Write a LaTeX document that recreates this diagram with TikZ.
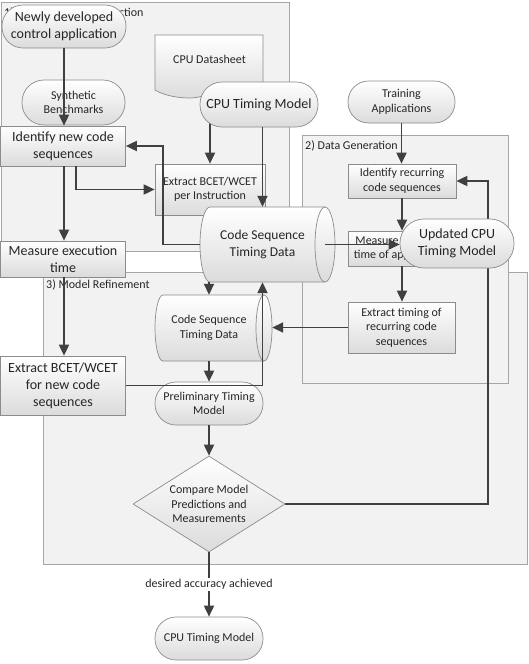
\documentclass[tikz,border=0pt]{standalone}
\usepackage{fontspec}
\setmainfont{Carlito}
\usetikzlibrary{arrows.meta,shapes.geometric,calc}
\pgfdeclarelayer{back}
\pgfdeclarelayer{mid}
\pgfdeclarelayer{front}
\pgfsetlayers{back,mid,main,front}
\begin{document}
\begin{tikzpicture}[x=1pt,y=-1pt,
  every node/.style={text=black!85, inner sep=0pt},
  bigfont/.style={font=\fontsize{14}{17}\selectfont, align=center},
  smallfont/.style={font=\fontsize{12}{14.5}\selectfont, align=center},
  shade3d/.style={draw=black!45, line width=0.7pt, top color=white, bottom color=black!14},
  stad/.style={shade3d, rectangle, rounded corners=#1},
  boxx/.style={shade3d, rectangle},
  container/.style={draw=black!35, line width=0.7pt, fill=black!5},
  flow/.style={draw=black!75, line width=1.8pt, -{Triangle[length=11pt,width=10pt]}},
  lbl/.style={font=\fontsize{12}{14.5}\selectfont, anchor=base west},
]
\useasboundingbox (0,0) rectangle (529,664);

% ---------- containers ----------
\begin{pgfonlayer}{back}
\path[container] (1.5,2) rectangle (289,251);
\path[container] (43,272) rectangle (527,564);
\path[container] (302,135) rectangle (508,383);
\node[lbl] (lab1) at (4,16.5) {1) Initial Model Construction};
\node[lbl] (lab2) at (305,149.5) {2) Data Generation};
\node[lbl] (lab3) at (46,288) {3) Model Refinement};
\end{pgfonlayer}

% ---------- nodes ----------
\node[stad=22pt, smallfont, minimum width=103pt, minimum height=45pt] (synth) at (73.5,102.5) {Synthetic\\Benchmarks};

\path[shade3d] (155,35) -- (263,35) -- (263,88) .. controls (232,76) and (212,99) .. (188,98) .. controls (172,97.5) and (162,94) .. (155,90) -- cycle;
\node[smallfont] (ds) at (209.5,59) {CPU Datasheet};

\node[stad=21pt, bigfont, minimum width=124pt, minimum height=43pt] (newly) at (64,26.5) {Newly developed\\control application};
\node[stad=22pt, bigfont, minimum width=118pt, minimum height=45pt] (cputm) at (259,104.5) {CPU Timing Model};
\node[boxx, bigfont, minimum width=125pt, minimum height=40pt] (identify) at (63,146) {Identify new code\\sequences};
\node[boxx, smallfont, minimum width=110pt, minimum height=51pt] (extrinst) at (210,189.5) {Extract BCET/WCET\\per Instruction};

% big cylinder
\path[shade3d] (210,207) -- (325,207) .. controls (330.5,207) and (335,223.8) .. (335,244.5) .. controls (335,265.2) and (330.5,282) .. (325,282) -- (210,282) .. controls (204.5,282) and (200,265.2) .. (200,244.5) .. controls (200,223.8) and (204.5,207) .. (210,207) -- cycle;
\draw[black!45, line width=0.7pt] (325,207) .. controls (319.5,207) and (315,223.8) .. (315,244.5) .. controls (315,265.2) and (319.5,282) .. (325,282);
\node[bigfont, font=\fontsize{13.5}{16.5}\selectfont, minimum width=145pt, minimum height=75pt] (bigcyl) at (262.5,244.5) {Code Sequence\\Timing Data};

\node[boxx, bigfont, minimum width=125pt, minimum height=36pt] (measure) at (63,259) {Measure execution\\time};
\node[boxx, bigfont, minimum width=125pt, minimum height=59pt] (extrnew) at (63,385.5) {Extract BCET/WCET\\for new code\\sequences};

% small cylinder
\path[shade3d] (163,295) -- (264,295) .. controls (268.4,295) and (272,309.8) .. (272,328) .. controls (272,346.2) and (268.4,361) .. (264,361) -- (163,361) .. controls (158.6,361) and (155,346.2) .. (155,328) .. controls (155,309.8) and (158.6,295) .. (163,295) -- cycle;
\draw[black!45, line width=0.7pt] (264,295) .. controls (259.6,295) and (256,309.8) .. (256,328) .. controls (256,346.2) and (259.6,361) .. (264,361);
\node[smallfont, minimum width=126pt, minimum height=66pt] (smallcyl) at (209,328) {Code Sequence\\Timing Data};

\node[stad=21pt, smallfont, minimum width=108pt, minimum height=43pt] (prelim) at (209,403.5) {Preliminary Timing\\Model};
\node[diamond, shade3d, smallfont, minimum width=152pt, minimum height=96pt, inner sep=-2pt, aspect=1.58] (cmp) at (209,504) {Compare Model\\Predictions and\\Measurements};
\node[stad=21pt, smallfont, minimum width=108pt, minimum height=43pt] (final) at (209,638.5) {CPU Timing Model};

\node[stad=20.5pt, smallfont, minimum width=107pt, minimum height=42pt] (training) at (401.5,102) {Training\\Applications};
\node[boxx, smallfont, minimum width=108pt, minimum height=34pt] (identrec) at (402,181) {Identify recurring\\code sequences};
\node[boxx, smallfont, minimum width=108pt, minimum height=35pt] (measapps) at (402,248.5) {Measure execution\\time of applications};
\node[stad=24pt, bigfont, minimum width=114pt, minimum height=49pt] (updated) at (457,243.5) {Updated CPU\\Timing Model};
\node[boxx, smallfont, minimum width=107pt, minimum height=51pt] (extrrec) at (401.5,327.5) {Extract timing of\\recurring code\\sequences};

\coordinate (qturn) at (488,181);

% ---------- connectors under nodes ----------
\begin{pgfonlayer}{mid}
\draw[flow] (cputm.center -| extrinst.north) -- (extrinst.north);
\draw[flow] (cmp.east) -| (qturn) -- (identrec.east);
\end{pgfonlayer}

% ---------- connectors over nodes ----------
\begin{pgfonlayer}{front}
\draw[flow] (newly.south) -- (newly.south |- identify.north);
\draw[flow] (newly.south |- identify.south) -- (newly.south |- measure.north);
\draw[flow] (newly.south |- measure.south) -- (newly.south |- extrnew.north);
\draw[flow] ([xshift=13pt]identify.south) |- (extrinst.west);
\draw[flow] (cputm.south -| bigcyl.north) -- (bigcyl.north);
\draw[flow] ($(bigcyl.west)+(10,0)$) -- ++(-37,0) |- (identify.east);
\draw[flow] ($(bigcyl.east)+(-10,0)$) -- (updated.west |- bigcyl.east);
\draw[flow] (training.south) -- (training.south |- identrec.north);
\draw[flow] (identrec.south) -- (measapps.north);
\draw[flow] (measapps.south) -- (measapps.south |- extrrec.north);
\draw[flow] (extrrec.west) -- (extrrec.west -| smallcyl.east);
\draw[flow] (bigcyl.south -| prelim.north) -- (smallcyl.north -| prelim.north);
\draw[flow] (smallcyl.south) -- (prelim.north);
\draw[flow] (extrnew.east) -| (bigcyl.south);
\draw[flow] (prelim.south) -- (cmp.north);
\draw[flow] (cmp.south) -- node[fill=white, smallfont, inner sep=1.5pt] (acc) {desired accuracy achieved} (final.north);
\end{pgfonlayer}
\end{tikzpicture}
\end{document}
